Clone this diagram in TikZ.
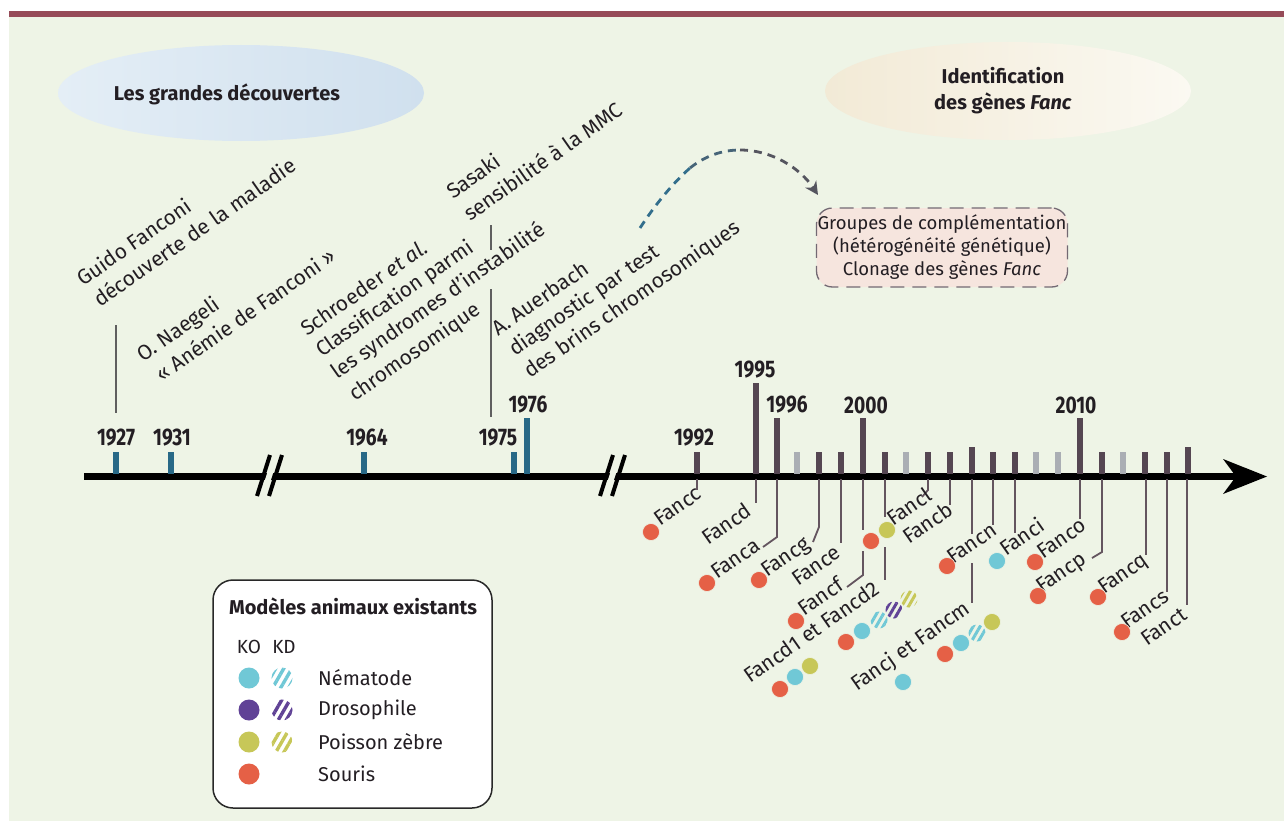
\documentclass[tikz,border=0pt]{standalone}
\usepackage{fontspec}
\setmainfont{Fira Sans}
\newfontfamily\yearfont{Fira Sans}[FakeStretch=0.8]
\usetikzlibrary{arrows.meta,patterns.meta}
\definecolor{bg}{RGB}{238,244,230}
\definecolor{band}{RGB}{150,75,88}
\definecolor{tickblue}{RGB}{40,105,135}
\definecolor{tickdark}{RGB}{85,70,82}
\definecolor{tickgrey}{RGB}{170,174,180}
\definecolor{gline}{RGB}{100,85,95}
\definecolor{vline}{RGB}{95,95,95}
\definecolor{cyanD}{RGB}{112,200,214}
\definecolor{purpD}{RGB}{96,66,150}
\definecolor{oliveD}{RGB}{199,199,88}
\definecolor{redD}{RGB}{229,96,70}
\definecolor{txt}{RGB}{35,30,35}
\definecolor{boxfill}{RGB}{246,229,222}
\definecolor{boxline}{RGB}{115,105,115}
\definecolor{arrteal}{RGB}{50,110,140}
\definecolor{arrmid}{RGB}{70,100,120}
\definecolor{arrgrey}{RGB}{85,85,95}
\definecolor{blueL}{RGB}{228,238,246}
\definecolor{blueM}{RGB}{168,200,224}
\definecolor{blueR}{RGB}{208,224,238}
\definecolor{creamL}{RGB}{242,234,214}
\definecolor{creamM}{RGB}{246,231,208}
\definecolor{creamR}{RGB}{251,249,242}
\begin{document}
\begin{tikzpicture}[x=1pt,y=-1pt,
  gene/.style={rotate=35, anchor=base west, inner sep=0pt, text=txt, font=\fontsize{21}{21}\selectfont},
  toptxt/.style={rotate=35, anchor=base west, inner sep=0pt, text=txt, font=\fontsize{21}{21}\selectfont},
  year/.style={inner sep=0pt, text=txt, font=\yearfont\bfseries\fontsize{24}{24}\selectfont},
  head/.style={inner sep=0pt, text=txt, align=center, font=\bfseries\fontsize{20}{26}\selectfont},
  gl/.style={draw=gline, line width=1.8pt},
  vl/.style={draw=vline, line width=1.6pt},
  dot/.style={circle, minimum size=17pt, inner sep=0pt, draw=bg, line width=0.6pt},
  hdot/.style={circle, minimum size=17pt, inner sep=0pt, pattern={Lines[angle=60,distance=6pt,line width=3pt]}},
  ldot/.style={circle, minimum size=21pt, inner sep=0pt},
  lhdot/.style={circle, minimum size=21pt, inner sep=0pt, pattern={Lines[angle=60,distance=7pt,line width=3.4pt]}},
  legtxt/.style={anchor=west, inner sep=0pt, text=txt, font=\fontsize{20}{20}\selectfont},
  dasharr/.style={line width=2.8pt, dash pattern=on 8pt off 6pt}
]
\useasboundingbox (0,0) rectangle (1284,824);
\fill[white] (0,0) rectangle (1284,824);
\fill[bg] (9,17) rectangle (1284,821);
\fill[band] (9,11.5) rectangle (1284,17);

% header ellipses
\shade[left color=blueL, middle color=blueM, right color=blueR] (241,93) ellipse [x radius=183, y radius=48];
\node[head] (h1) at (227,94) {Les grandes découvertes};
\shade[left color=creamL, middle color=creamM, right color=creamR] (1008,91) ellipse [x radius=183, y radius=49];
\node[head] (h2) at (1003,91) {Identification\\des gènes \textit{Fanc}};

% top texts
\node[toptxt] (g1) at (83,287) {Guido Fanconi};
\node[toptxt] (g2) at (100,308) {découverte de la maladie};
\node[toptxt] (n1) at (143,363) {O. Naegeli};
\node[toptxt] (n2) at (162,383) {« Anémie de Fanconi »};
\node[toptxt] (s1) at (307,337) {Schroeder \textit{et al.}};
\node[toptxt] (s2) at (322,358) {Classification parmi};
\node[toptxt] (s3) at (337,380) {les syndromes d’instabilité};
\node[toptxt] (s4) at (355,402) {chromosomique};
\node[toptxt] (k1) at (453,200) {Sasaki};
\node[toptxt] (k2) at (470,222) {sensibilité à la MMC};
\node[toptxt] (a1) at (498,337) {A. Auerbach};
\node[toptxt] (a2) at (515,357) {diagnostic par test};
\node[toptxt] (a3) at (530,379) {des brins chromosomiques};

% vertical connectors top
\coordinate (v1a) at (116,325); \coordinate (v1b) at (116,413);
\draw[vl] (v1a) -- (v1b);
\coordinate (v2a) at (491,225); \coordinate (v2b) at (491,250);
\coordinate (v2c) at (491,289); \coordinate (v2d) at (491,417);
\draw[vl] (v2a) -- (v2b);
\draw[vl] (v2c) -- (v2d);

% dashed curved arrow
\coordinate (arS) at (640,228);
\coordinate (arM1) at (690,168);
\coordinate (arM2) at (740,150);
\coordinate (arE) at (818,195);
\draw[dasharr, arrteal] (arS) .. controls (655,205) and (672,184) .. (arM1);
\draw[dasharr, arrmid] (arM1) .. controls (705,156) and (722,150) .. (arM2);
\draw[dasharr, arrgrey, -{Stealth[length=13pt,width=13pt,inset=4pt]}] (arM2) .. controls (772,150) and (800,168) .. (arE);

% box
\node[draw=boxline, line width=1.3pt, dash pattern=on 14pt off 8pt, fill=boxfill, rounded corners=16pt,
  minimum width=251pt, minimum height=79pt, inner sep=0pt, align=center, text=txt,
  font=\fontsize{18.5}{23}\selectfont] (grp) at (942,247.5)
  {Groupes de complémentation\\(hétérogénéité génétique)\\Clonage des gènes \textit{Fanc}};

% axis
\coordinate (axS) at (84,476.5);
\coordinate (axE) at (1238,476.5);
\draw[line width=6.5pt, black] (axS) -- (axE);
\fill[black] (1267,476.5) -- (1223,459) -- (1236,476.5) -- (1223,494) -- cycle;

% breaks
\foreach \bx in {261,604} {
  \fill[bg] (\bx-1,495) -- (\bx+12,455) -- (\bx+18,455) -- (\bx+5,495) -- cycle;
  \draw[line width=4pt, black] (\bx-4,496) -- (\bx+9,455);
  \draw[line width=4pt, black] (\bx+8,496) -- (\bx+21,455);
}

% ticks
\foreach \tx/\ty in {116/452,171/452,364/452,514/452,527/418}
  \fill[tickblue] (\tx-3,\ty) rectangle (\tx+3,474);
\foreach \tx/\ty in {697/452,756/383,777/418,819/452,841/452,863/418,885/452,928/452,950/452,972/447,993/452,1015/452,1080/418,1102/452,1145/452,1167/452,1188/447}
  \fill[tickdark] (\tx-3,\ty) rectangle (\tx+3,474);
\foreach \tx in {797,906,1036,1058,1123}
  \fill[tickgrey] (\tx-3,452) rectangle (\tx+3,474);

% years
\node[year] (y1927) at (116,438) {1927};
\node[year] (y1931) at (172,438) {1931};
\node[year] (y1964) at (367,438) {1964};
\node[year] (y1975) at (498,438) {1975};
\node[year] (y1976) at (528,405) {1976};
\node[year] (y1992) at (694,438) {1992};
\node[year] (y1995) at (755,370) {1995};
\node[year] (y1996) at (787,405) {1996};
\node[year] (y2000) at (866,405) {2000};
\node[year] (y2010) at (1076,405) {2010};

% tick base coordinates
\foreach \n/\tx in {c/697,d/756,a/777,g/819,e/841,f/863,dd/885,l/928,b/950,jm/972,nn/993,i/1015,o/1080,p/1102,q/1146,s/1167,t/1187}
  \coordinate (t\n) at (\tx,479);

% gene connector lines
\draw[gl] (tc) -- (697,490);
\draw[gl] (td) -- (756,503);
\draw[gl] (ta) -- (777,537) -- (763,547);
\draw[gl] (tg) -- (819,527) -- (813,542);
\draw[gl] (te) -- (841,543);
\draw[gl] (tf) -- (863,530);
\draw[gl] (863,551) -- (863,575) -- (847,587);
\draw[gl] (tdd) -- (885,517);
\draw[gl] (885,547) -- (885,580);
\draw[gl] (tl) -- (928,490) -- (922,497);
\draw[gl] (tb) -- (950,505);
\draw[gl] (tjm) -- (972,534);
\draw[gl] (972,563) -- (972,603);
\draw[gl] (tnn) -- (993,525);
\draw[gl] (ti) -- (1015,533);
\draw[gl] (to) -- (1080,519);
\draw[gl] (tp) -- (1102,552) -- (1092,558);
\draw[gl] (tq) -- (1146,555);
\draw[gl] (ts) -- (1167,592);
\draw[gl] (tt) -- (1187,605);

% gene labels
\node[gene] (lc) at (660,527) {Fancc};
\node[gene] (ld) at (708,546) {Fancd};
\node[gene] (la) at (717,580) {Fanca};
\node[gene] (lg) at (767,578) {Fancg};
\node[gene] (le) at (798,587) {Fance};
\node[gene] (lf) at (804,617) {Fancf};
\node[gene] (ll) at (893,527) {Fancl};
\node[gene] (lb) at (909,545) {Fancb};
\node[gene] (ldd) at (750,684) {Fancd1 et Fancd2};
\node[gene] (ljm) at (857,692) {Fancj et Fancm};
\node[gene] (ln) at (953,565) {Fancn};
\node[gene] (li) at (1006,557) {Fanci};
\node[gene] (lo) at (1043,560) {Fanco};
\node[gene] (lp) at (1042,594) {Fancp};
\node[gene] (lq) at (1104,595) {Fancq};
\node[gene] (ls) at (1127,630) {Fancs};
\node[gene] (lt) at (1147,647) {Fanct};

% dots
\node[dot, fill=redD] (dc) at (651,532) {};
\node[dot, fill=redD] (da) at (707,583) {};
\node[dot, fill=redD] (dg) at (759,580) {};
\node[dot, fill=redD] (df) at (796,621) {};
\node[dot, fill=redD] (dl1) at (871,541) {};
\node[dot, fill=oliveD] (dl2) at (887,530) {};
\node[dot, fill=redD] (dd1a) at (780,689) {};
\node[dot, fill=cyanD] (dd1b) at (795,677) {};
\node[dot, fill=oliveD] (dd1c) at (810,666) {};
\node[dot, fill=redD] (dd2a) at (846,642) {};
\node[dot, fill=cyanD] (dd2b) at (862,631) {};
\node[hdot, pattern color=cyanD] (dd2c) at (879,620) {};
\node[hdot, pattern color=purpD] (dd2d) at (894,610) {};
\node[hdot, pattern color=oliveD] (dd2e) at (909,599) {};
\node[dot, fill=cyanD] (dj) at (903,682) {};
\node[dot, fill=redD] (dma) at (945,654) {};
\node[dot, fill=cyanD] (dmb) at (961,643) {};
\node[hdot, pattern color=cyanD] (dmc) at (977,633) {};
\node[dot, fill=oliveD] (dmd) at (992,622) {};
\node[dot, fill=redD] (dn) at (947,566) {};
\node[dot, fill=cyanD] (di) at (997,561) {};
\node[dot, fill=redD] (do) at (1035,562) {};
\node[dot, fill=redD] (dp) at (1038,596) {};
\node[dot, fill=redD] (dq) at (1098,597) {};
\node[dot, fill=redD] (ds) at (1122,632) {};

% legend
\node[draw={rgb,255:red,40;green,40;blue,40}, line width=1.5pt, fill=white, rounded corners=20pt,
  minimum width=279pt, minimum height=228pt, inner sep=0pt] (leg) at (352.5,694) {};
\node[inner sep=0pt, text=txt, font=\bfseries\fontsize{20}{20}\selectfont] (legT) at (353,606) {Modèles animaux existants};
\node[inner sep=0pt, text=txt, font=\fontsize{19}{19}\selectfont] (ko) at (249,647) {KO};
\node[inner sep=0pt, text=txt, font=\fontsize{19}{19}\selectfont] (kd) at (284,647) {KD};
\node[ldot, fill=cyanD] (l1a) at (249,678) {};
\node[lhdot, pattern color=cyanD] (l1b) at (282,678) {};
\node[legtxt] (l1t) at (318,678) {Nématode};
\node[ldot, fill=purpD] (l2a) at (249,710) {};
\node[lhdot, pattern color=purpD] (l2b) at (282,710) {};
\node[legtxt] (l2t) at (318,710) {Drosophile};
\node[ldot, fill=oliveD] (l3a) at (249,742) {};
\node[lhdot, pattern color=oliveD] (l3b) at (282,742) {};
\node[legtxt] (l3t) at (318,742) {Poisson zèbre};
\node[ldot, fill=redD] (l4a) at (249,774) {};
\node[legtxt] (l4t) at (318,774) {Souris};
\end{tikzpicture}
\end{document}
